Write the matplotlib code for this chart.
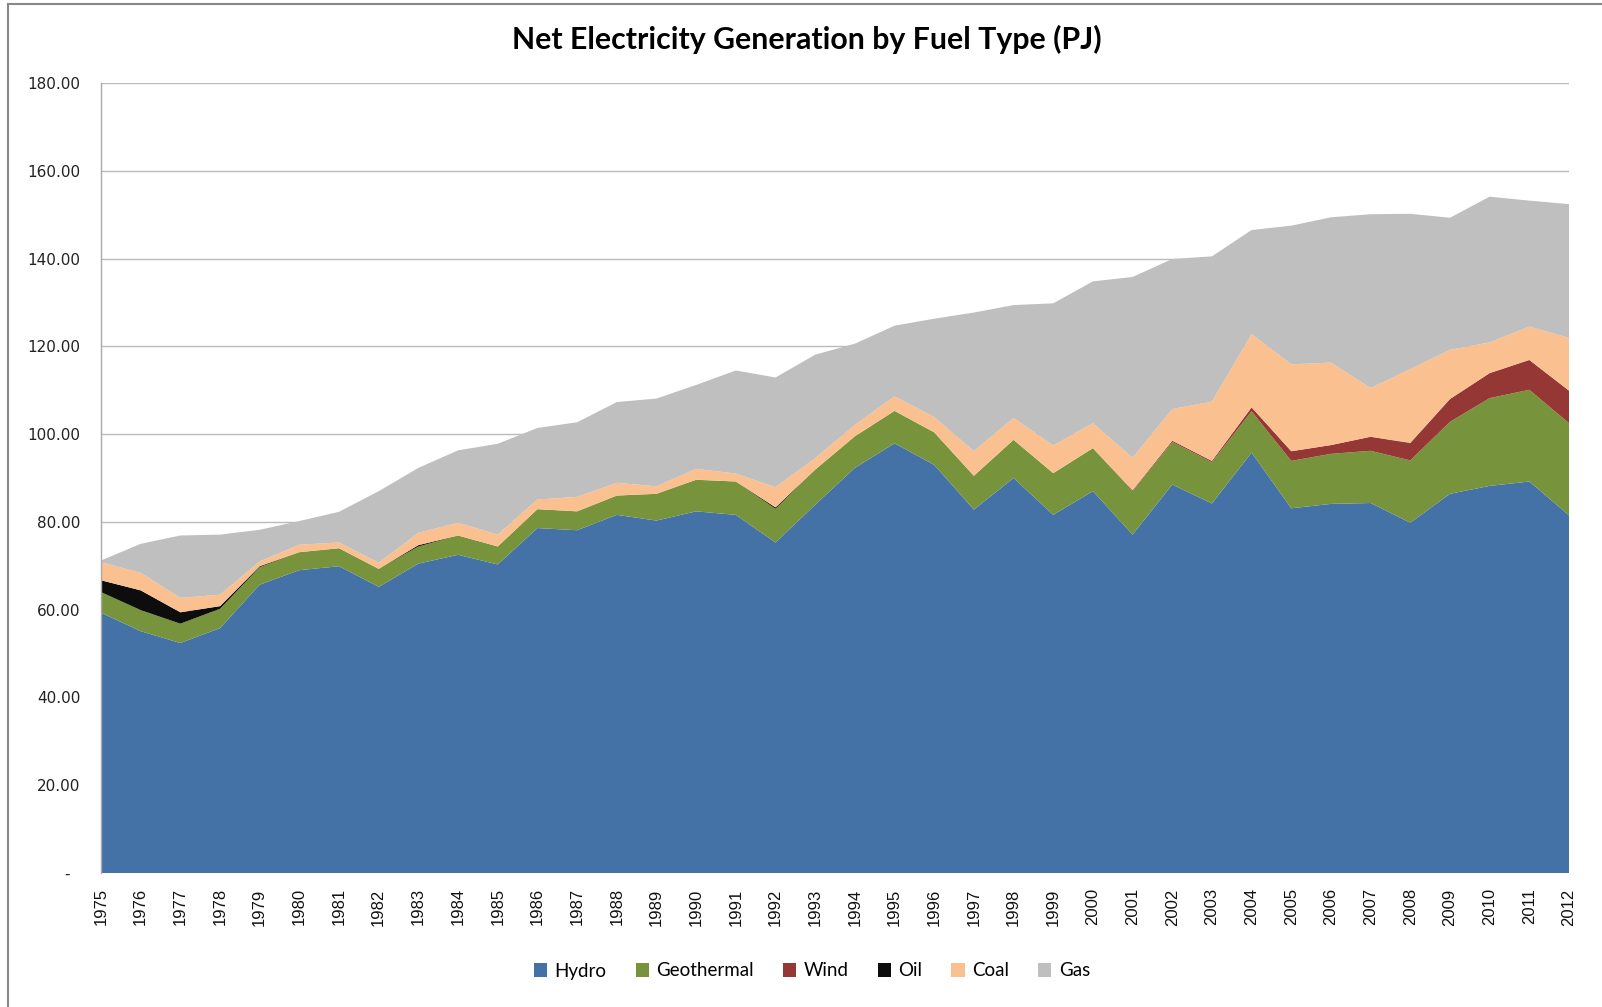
import matplotlib
matplotlib.use("Agg")
import matplotlib.pyplot as plt
from matplotlib.patches import Patch
from matplotlib.lines import Line2D
import numpy as np

years = list(range(1975, 2013))
hydro = [59.3, 55.1, 52.4, 55.8, 65.7, 69.0, 69.9, 65.2, 70.5, 72.5,
         70.3, 78.6, 78.1, 81.6, 80.3, 82.4, 81.6, 75.3, 83.9, 92.3,
         97.9, 93.0, 82.8, 90.0, 81.6, 87.0, 77.1, 88.5, 84.2, 95.8,
         83.1, 84.1, 84.3, 79.8, 86.4, 88.2, 89.2, 81.5]
geothermal = [4.7, 4.8, 4.4, 4.4, 4.0, 4.1, 4.1, 4.1, 3.9, 4.4,
              4.1, 4.3, 4.3, 4.4, 6.1, 7.2, 7.6, 7.7, 8.0, 7.2,
              7.4, 7.4, 7.7, 8.7, 9.5, 9.8, 9.9, 9.7, 9.4, 9.4,
              10.8, 11.4, 11.9, 14.2, 16.4, 20.0, 20.9, 21.0]
wind = [0, 0, 0, 0, 0, 0, 0, 0, 0, 0,
        0, 0, 0, 0, 0, 0, 0, 0, 0, 0,
        0, 0, 0, 0, 0, 0, 0.2, 0.3, 0.3, 0.9,
        2.2, 2.0, 3.2, 3.9, 5.2, 5.7, 6.8, 7.4]
oil = [2.7, 4.5, 2.6, 0.6, 0.2, 0, 0, 0, 0.3, 0,
       0, 0, 0, 0, 0, 0, 0, 0.3, 0, 0,
       0, 0, 0, 0, 0, 0, 0, 0, 0, 0,
       0, 0, 0, 0.1, 0, 0, 0, 0]
coal = [4.1, 4.0, 3.3, 2.6, 1.1, 1.7, 1.3, 1.4, 2.8, 2.9,
        2.7, 2.2, 3.3, 2.9, 1.7, 2.5, 1.8, 4.6, 2.6, 2.6,
        3.3, 3.5, 5.6, 5.0, 6.3, 5.7, 7.4, 7.2, 13.5, 16.7,
        19.8, 18.8, 11.1, 16.8, 11.2, 7.0, 7.6, 12.0]
gas = [0.4, 6.6, 14.2, 13.7, 7.2, 5.4, 7.0, 16.3, 14.8, 16.5,
       20.7, 16.3, 17.0, 18.4, 20.0, 19.1, 23.5, 25.0, 23.6, 18.5,
       16.1, 22.4, 31.6, 25.7, 32.4, 32.3, 41.2, 34.2, 33.1, 23.7,
       31.6, 33.1, 39.6, 35.4, 30.1, 33.2, 28.7, 30.5]

series_names = ["Hydro", "Geothermal", "Wind", "Oil", "Coal", "Gas"]
colors = ["#4472A7", "#77933C", "#953735", "#0D0D0D", "#FAC090", "#BFBFBF"]
yticks = [0, 20, 40, 60, 80, 100, 120, 140, 160, 180]
ytick_labels = ["-  ", "20.00", "40.00", "60.00", "80.00", "100.00",
                "120.00", "140.00", "160.00", "180.00"]

W, H = 1602, 1007
fig = plt.figure(figsize=(W / 100, H / 100), dpi=100)
ax = fig.add_axes([101 / W, 1 - 873 / H, (1569 - 101) / W, (873 - 83) / H])

ax.stackplot(years, hydro, geothermal, wind, oil, coal, gas,
             colors=colors, linewidth=0, zorder=2)

ax.set_xlim(years[0], years[-1])
ax.set_ylim(0, 180)
ax.set_yticks(yticks)
ax.set_yticklabels(ytick_labels, fontsize=11, color="#222222", family="DejaVu Sans")
ax.set_xticks(years)
ax.set_xticklabels([str(y) for y in years], rotation=90, fontsize=12,
                   family="Liberation Sans", color="#111111")
ax.tick_params(axis="y", length=0, pad=15)
ax.tick_params(axis="x", length=0, pad=11)
ax.grid(axis="y", color="#BBBBBB", linewidth=1.0, zorder=0)
ax.set_axisbelow(True)
for s in ["top", "right", "bottom"]:
    ax.spines[s].set_visible(False)
ax.spines["left"].set_color("#AAAAAA")
ax.spines["left"].set_linewidth(1.0)

fig.text(807 / W, 1 - 39 / H, "Net Electricity Generation by Fuel Type (PJ)",
         ha="center", va="center", fontsize=21.8, fontweight="bold",
         family="Lato", color="#000000")

handles = [Patch(facecolor=c, edgecolor="none") for c in colors]
fig.legend(handles, series_names, loc="center", ncol=6,
           bbox_to_anchor=(812 / W, 1 - 971 / H), frameon=False,
           prop={"family": "Lato", "size": 13.5}, handlelength=0.7,
           handleheight=0.7, handletextpad=0.4, columnspacing=1.55)

# outer chart border (left and top edges)
fig.add_artist(Line2D([8 / W, 8 / W], [0, 1 - 4 / H], transform=fig.transFigure,
                      color="#888888", linewidth=1.5))
fig.add_artist(Line2D([8 / W, 1], [1 - 4 / H, 1 - 4 / H], transform=fig.transFigure,
                      color="#888888", linewidth=1.5))

fig.savefig("out.png", dpi=100)
